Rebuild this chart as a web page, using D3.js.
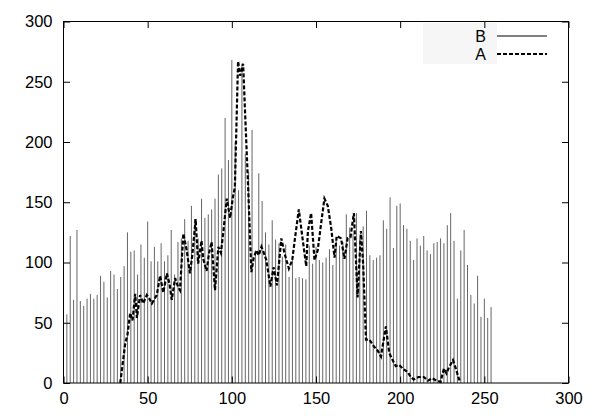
<!DOCTYPE html>
<html>
<head>
<meta charset="utf-8">
<script src="https://cdn.jsdelivr.net/npm/d3@7"></script>
<style>
body { margin: 0; background: #fff; }
text { font-family: "Liberation Sans", Arial, sans-serif; }
</style>
</head>
<body>
<svg width="600" height="420"></svg>
<script>
// series B (impulses), one value every 2 units from x = 0
var bStart = 0, bStep = 2;
var bValues = [
  76, 57, 122, 69, 127, 68, 64, 70, 74, 70,
  73, 89, 84, 71, 93, 90, 78, 88, 97, 125,
  109, 110, 90, 115, 104, 134, 101, 113, 101, 116,
  101, 106, 127, 90, 117, 120, 136, 118, 147, 136,
  120, 153, 137, 140, 144, 153, 173, 178, 220, 185,
  268, 200, 160, 265, 190, 175, 210, 110, 174, 151,
  125, 115, 135, 119, 116, 105, 115, 88, 102, 87,
  88, 87, 86, 114, 99, 113, 102, 100, 104, 111,
  98, 118, 114, 117, 140, 129, 124, 141, 120, 130,
  143, 106, 102, 104, 106, 135, 128, 154, 112, 147,
  149, 131, 128, 118, 102, 120, 114, 122, 110, 107,
  116, 117, 120, 116, 131, 141, 118, 70, 110, 127,
  98, 73, 66, 89, 55, 70, 54, 63
];
var bX = bValues.map((v, i) => bStart + i * bStep);

// series A (dashed line)
var aX = [
  33.7, 36.7, 38, 39.6, 41, 42.6, 43.6, 45.5, 47.3, 49.5,
  51, 52.5, 55.4, 57.4, 59.3, 61.4, 63, 64.3, 66.3, 68,
  69.2, 71.2, 73.2, 75.1, 76.5, 78.5, 80, 82, 83, 85,
  86.5, 88, 90, 92, 93.5, 95, 97, 99, 100.6, 101.8,
  103.7, 105, 106.7, 108, 109.7, 111.6, 113, 114.6, 116, 117.6,
  119, 120.5, 122.9, 124.8, 126.8, 129.4, 131.4, 133.9, 135.9, 137.5,
  139.8, 142, 144.2, 145.2, 147.1, 149.1, 151, 153, 155, 157,
  159, 161, 162.3, 164.9, 166.9, 168.8, 170.5, 172.5, 174.7, 176.7,
  178, 179.7, 181.7, 184.6, 186.6, 188.6, 191.5, 193.5, 195.5, 197.4,
  199.4, 202.4, 204.5, 206.3, 208, 211, 214, 216.5, 219, 221.5,
  224, 226, 227.5, 229, 231.4, 233.3, 235, 236
];
var aY = [
  0, 33, 40, 58, 52, 74, 54, 73, 66, 73,
  70, 66, 73, 89, 75, 91, 82, 69, 87, 80,
  77, 124, 110, 91, 106, 136, 99, 118, 103, 93,
  108, 117, 77, 113, 108, 126, 153, 137, 154, 162,
  267, 255, 265, 220, 162, 92, 104, 110, 106, 113,
  108, 102, 80, 96, 81, 120, 107, 95, 102, 120,
  144, 120, 97, 126, 141, 102, 110, 132, 153, 147,
  129, 104, 122, 120, 103, 120, 121, 141, 71, 126,
  99, 36, 36, 30, 27, 22, 47, 25, 19, 14,
  15, 11, 9, 5, 3, 5, 5, 2, 4, 2,
  1, 12, 8, 13, 19, 11, 3, 3
];

var xTicks = [0, 50, 100, 150, 200, 250, 300];
var yTicks = [0, 50, 100, 150, 200, 250, 300];
var legendNames = ["B", "A"];

var svg = d3.select("svg");

var x = d3.scaleLinear().domain([0, 300]).range([63.5, 568.5]);
var y = d3.scaleLinear().domain([0, 300]).range([383, 21.5]);

// legend background
svg.append("rect")
  .attr("x", 423).attr("y", 23)
  .attr("width", 74).attr("height", 41)
  .attr("fill", "#f6f6f6");

// B impulses
svg.append("g")
  .selectAll("line")
  .data(bValues)
  .enter().append("line")
    .attr("x1", (d, i) => x(bX[i]))
    .attr("x2", (d, i) => x(bX[i]))
    .attr("y1", y(0))
    .attr("y2", d => y(d))
    .attr("stroke", "#666")
    .attr("stroke-width", 1);

// A dashed line
var line = d3.line()
  .x((d, i) => x(aX[i]))
  .y(d => y(d));

svg.append("path")
  .datum(aY)
  .attr("d", line)
  .attr("fill", "none")
  .attr("stroke", "#000")
  .attr("stroke-width", 2.2)
  .attr("stroke-dasharray", "4,2");

// axes, ticks pointing inward
var tick = 6.5;
svg.append("g")
  .attr("transform", "translate(0," + y(0) + ")")
  .call(d3.axisBottom(x).tickValues(xTicks).tickSizeInner(-tick).tickSizeOuter(0).tickPadding(9))
  .call(g => g.select(".domain").remove());
svg.append("g")
  .attr("transform", "translate(0," + y(300) + ")")
  .call(d3.axisTop(x).tickValues(xTicks).tickSizeInner(-tick).tickSizeOuter(0).tickFormat(""))
  .call(g => g.select(".domain").remove());
svg.append("g")
  .attr("transform", "translate(" + x(0) + ",0)")
  .call(d3.axisLeft(y).tickValues(yTicks).tickSizeInner(-tick).tickSizeOuter(0).tickPadding(11))
  .call(g => g.select(".domain").remove());
svg.append("g")
  .attr("transform", "translate(" + x(300) + ",0)")
  .call(d3.axisRight(y).tickValues(yTicks).tickSizeInner(-tick).tickSizeOuter(0).tickFormat(""))
  .call(g => g.select(".domain").remove());

svg.selectAll(".tick text")
  .attr("font-size", 16.5)
  .attr("font-family", "'Liberation Sans', Arial, sans-serif")
  .attr("fill", "#000");
svg.selectAll(".tick line").attr("stroke", "#000");

// frame
svg.append("rect")
  .attr("x", x(0)).attr("y", y(300))
  .attr("width", x(300) - x(0))
  .attr("height", y(0) - y(300))
  .attr("fill", "none")
  .attr("stroke", "#000")
  .attr("stroke-width", 1);

// legend
var legend = svg.append("g");
legendNames.forEach((name, i) => {
  var ly = 36 + i * 18;
  legend.append("text")
    .attr("x", 486).attr("y", ly + 6)
    .attr("text-anchor", "end")
    .attr("font-size", 16)
    .text(name);
  legend.append("line")
    .attr("x1", 497).attr("x2", 547)
    .attr("y1", ly).attr("y2", ly)
    .attr("stroke", "#000")
    .attr("stroke-width", i === 0 ? 1 : 2)
    .attr("stroke-dasharray", i === 0 ? null : "4,2");
});
</script>
</body>
</html>
